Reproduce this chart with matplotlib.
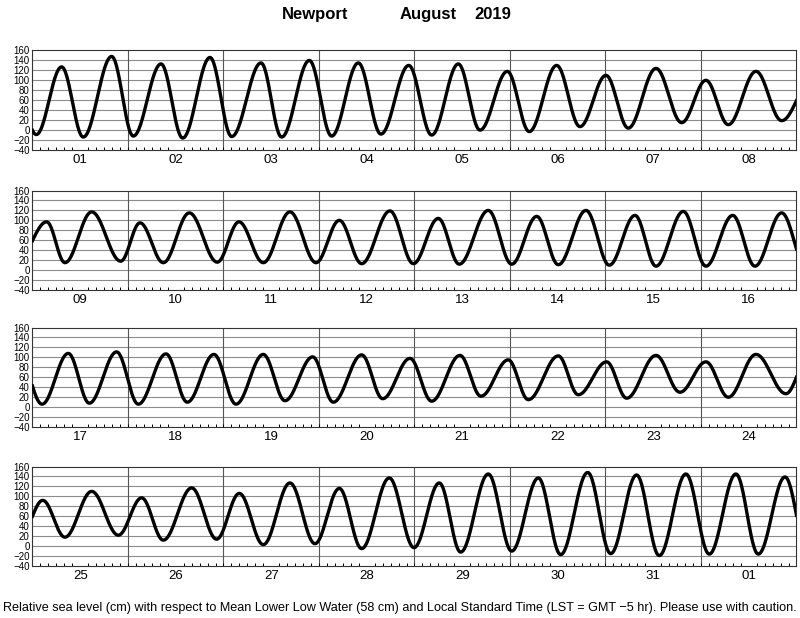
import numpy as np
import matplotlib
matplotlib.use('Agg')
import matplotlib.pyplot as plt
from matplotlib.ticker import MultipleLocator

plt.rcParams['font.family'] = ['Liberation Sans', 'DejaVu Sans']

# High and low water.
# Times in days from Aug 1 00:00 LST, levels in cm above MLLW.
hilo_time = [-0.22, 0.04, 0.305, 0.532, 0.829, 1.056, 1.346, 1.573, 1.859, 2.086,
             2.393, 2.609, 2.899, 3.133, 3.412, 3.649, 3.94, 4.18, 4.459, 4.686,
             4.972, 5.202, 5.489, 5.733, 6.005, 6.239, 6.529, 6.798, 7.052, 7.286,
             7.576, 7.845,
             8.149, 8.34, 8.62, 8.924, 9.126, 9.37, 9.642, 9.935, 10.162, 10.417,
             10.696, 10.969, 11.213, 11.447, 11.743, 11.988, 12.249, 12.469, 12.773,
             13.018, 13.28, 13.506, 13.796, 14.04, 14.309, 14.529, 14.815, 15.052,
             15.332, 15.565, 15.845,
             16.1, 16.375, 16.595, 16.881, 17.108, 17.398, 17.621, 17.9, 18.131,
             18.417, 18.644, 18.934, 19.15, 19.447, 19.667, 19.953, 20.18, 20.476,
             20.696, 20.982, 21.192, 21.506, 21.715, 22.012, 22.222, 22.529, 22.78,
             23.052, 23.286, 23.576, 23.89,
             24.107, 24.34, 24.62, 24.899, 25.143, 25.37, 25.667, 25.928, 26.166,
             26.417, 26.696, 26.958, 27.213, 27.447, 27.736, 27.995, 28.26, 28.484,
             28.773, 29.018, 29.297, 29.531, 29.814, 30.055, 30.326, 30.563, 30.842,
             31.087, 31.366, 31.6, 31.88, 32.12]
hilo_level = [140, -9, 127, -14, 148, -12, 133, -16, 146, -13,
              135, -14, 140, -12, 135, -8, 130, -10, 133, 0,
              118, -3, 130, 7, 110, 4, 124, 15, 100, 11,
              118, 19,
              97, 15, 117, 18, 95, 15, 115, 16, 97, 15,
              117, 15, 100, 13, 119, 13, 104, 12, 120,
              12, 108, 11, 120, 10, 110, 8, 118, 8,
              110, 8, 115,
              6, 108, 8, 111, 6, 107, 10, 106, 6,
              106, 13, 101, 10, 105, 17, 98, 12, 104,
              22, 95, 15, 103, 25, 91, 18, 104, 30,
              91, 20, 106, 27,
              92, 18, 110, 22, 97, 12, 117, 14, 106,
              3, 127, 5, 116, -5, 137, -3, 127, -12,
              145, -10, 137, -17, 148, -15, 143, -19, 145,
              -16, 145, -16, 139, -15]

day_labels = ['%02d' % d for d in range(1, 32)] + ['01']
yticks = list(range(-40, 161, 20))


# cosine interpolation between successive highs and lows
def tide_curve(t, ht, hv):
    ht = np.asarray(ht, float)
    hv = np.asarray(hv, float)
    i = np.clip(np.searchsorted(ht, t) - 1, 0, len(ht) - 2)
    f = (t - ht[i]) / (ht[i + 1] - ht[i])
    return hv[i + 1] + (hv[i] - hv[i + 1]) * (1 + np.cos(np.pi * f)) / 2


fig = plt.figure(figsize=(8, 6.18), dpi=100)
bottoms = [0.7573, 0.5307, 0.309, 0.0841]

for p in range(4):
    ax = fig.add_axes([0.0406, bottoms[p], 0.955, 0.161])
    t0 = 8 * p
    t = np.linspace(t0, t0 + 8, 2000)
    ax.plot(t, tide_curve(t, hilo_time, hilo_level), color='black', lw=2.4, zorder=3)
    ax.set_xlim(t0, t0 + 8)
    ax.set_ylim(-40, 160)
    ax.set_yticks(yticks)
    for y in yticks[1:-1]:
        ax.axhline(y, color='#8c8c8c', lw=0.8, zorder=1)
    for d in range(1, 8):
        ax.axvline(t0 + d, color='#555555', lw=0.8, zorder=1)
    ax.set_xticks(np.arange(t0, t0 + 8) + 0.5)
    ax.set_xticklabels(day_labels[t0:t0 + 8], fontsize=9.5)
    ax.xaxis.set_minor_locator(MultipleLocator(1 / 12))
    ax.tick_params(axis='x', which='major', length=0, pad=3)
    ax.tick_params(axis='x', which='minor', direction='in', length=2.5, width=0.7)
    ax.tick_params(axis='y', length=0, labelsize=7, pad=2)
    for s in ax.spines.values():
        s.set_linewidth(0.8)
        s.set_color('#333333')

fig.text(0.3525, 0.977, 'Newport', fontsize=12, fontweight='bold', va='center')
fig.text(0.5, 0.977, 'August', fontsize=12, fontweight='bold', va='center')
fig.text(0.5925, 0.977, '2019', fontsize=12, fontweight='bold', va='center')

fig.text(0.5, 0.016, 'Relative sea level (cm) with respect to Mean Lower Low Water (58 cm) '
         'and Local Standard Time (LST = GMT \u22125 hr). Please use with caution.',
         fontsize=9.1, ha='center', va='center')

fig.savefig('out.png', dpi=100)
